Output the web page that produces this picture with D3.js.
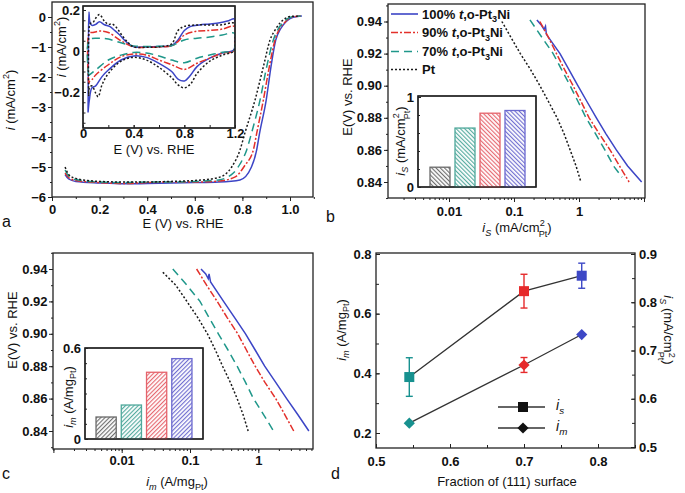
<!DOCTYPE html>
<html><head><meta charset="utf-8">
<script src="https://cdn.jsdelivr.net/npm/d3@7"></script>
<style>html,body{margin:0;padding:0;background:#fff}svg{display:block}</style>
</head><body>
<svg id="chart" width="685" height="493"></svg>
<script>
// ---------------- DATA ----------------
const seriesNames = ["100%", "90%", "70%", "Pt"];
const barCategories = ["Pt", "70%", "90%", "100%"];

// (a) LSV polarization curves: [E (V), i (mA/cm2)]
const lsvBlue = [[0.055,-5.25],[0.07,-5.4],[0.1,-5.48],[0.2,-5.53],[0.3,-5.56],[0.4,-5.55],[0.5,-5.53],[0.6,-5.52],[0.7,-5.5],[0.79,-5.43],[0.838,-5.0],[0.86,-4.43],[0.872,-3.88],[0.9,-2.77],[0.92,-1.66],[0.94,-0.77],[0.96,-0.4],[0.98,-0.18],[1.0,-0.05],[1.03,0.02],[1.05,0.03]];
const lsvRed = [[0.055,-5.2],[0.07,-5.35],[0.1,-5.45],[0.2,-5.52],[0.3,-5.55],[0.4,-5.52],[0.5,-5.5],[0.6,-5.5],[0.7,-5.47],[0.77,-5.33],[0.81,-4.95],[0.846,-4.43],[0.86,-3.88],[0.888,-2.77],[0.913,-1.66],[0.937,-0.77],[0.955,-0.4],[0.978,-0.18],[1.0,-0.03],[1.025,0.02],[1.045,0.03]];
const lsvTeal = [[0.055,-5.1],[0.07,-5.3],[0.1,-5.42],[0.2,-5.5],[0.3,-5.52],[0.4,-5.5],[0.5,-5.5],[0.6,-5.48],[0.7,-5.43],[0.762,-5.2],[0.79,-4.9],[0.818,-4.43],[0.838,-3.88],[0.874,-2.77],[0.902,-1.66],[0.93,-0.77],[0.95,-0.4],[0.972,-0.18],[0.995,-0.03],[1.02,0.02],[1.045,0.03]];
const lsvPt = [[0.055,-5.0],[0.07,-5.25],[0.1,-5.38],[0.15,-5.45],[0.2,-5.48],[0.3,-5.5],[0.4,-5.5],[0.5,-5.48],[0.6,-5.45],[0.7,-5.35],[0.755,-5.0],[0.79,-4.43],[0.81,-3.88],[0.853,-2.77],[0.888,-1.66],[0.916,-0.77],[0.94,-0.4],[0.958,-0.2],[0.98,-0.05],[1.0,0.02],[1.04,0.03]];

// (a inset) CV: anodic (forward) then cathodic (return) branches: [E, i]
const cvBlueUp = [[0.04,-0.30],[0.043,0.0],[0.047,0.19],[0.055,0.14],[0.07,0.125],[0.1,0.13],[0.13,0.143],[0.17,0.128],[0.21,0.12],[0.25,0.10],[0.29,0.078],[0.34,0.045],[0.4,0.021],[0.5,0.02],[0.6,0.022],[0.7,0.027],[0.75,0.054],[0.8,0.10],[0.85,0.12],[0.92,0.127],[1.0,0.132],[1.08,0.138],[1.15,0.148],[1.195,0.156]];
const cvBlueDown = [[1.2,0.04],[1.19,0.005],[1.1,-0.01],[1.0,-0.035],[0.9,-0.076],[0.85,-0.117],[0.8,-0.146],[0.75,-0.137],[0.7,-0.10],[0.6,-0.06],[0.5,-0.031],[0.4,-0.024],[0.3,-0.044],[0.2,-0.093],[0.15,-0.125],[0.1,-0.17],[0.07,-0.18],[0.05,-0.24],[0.04,-0.30]];
const cvPtUp = [[0.045,-0.22],[0.05,0.12],[0.06,0.135],[0.08,0.14],[0.1,0.16],[0.13,0.178],[0.17,0.145],[0.2,0.13],[0.23,0.132],[0.27,0.11],[0.3,0.083],[0.35,0.045],[0.4,0.02],[0.5,0.018],[0.6,0.02],[0.7,0.035],[0.75,0.1],[0.8,0.12],[0.9,0.127],[1.0,0.127],[1.1,0.128],[1.195,0.135]];
const cvPtDown = [[1.2,0.06],[1.19,0.0],[1.1,-0.02],[1.0,-0.05],[0.9,-0.11],[0.85,-0.16],[0.8,-0.18],[0.75,-0.165],[0.7,-0.13],[0.6,-0.08],[0.5,-0.044],[0.4,-0.031],[0.3,-0.05],[0.2,-0.11],[0.15,-0.165],[0.12,-0.223],[0.1,-0.205],[0.07,-0.17],[0.05,-0.18],[0.045,-0.22]];
const cvRedUp = [[0.045,-0.16],[0.05,0.087],[0.08,0.09],[0.13,0.097],[0.2,0.09],[0.3,0.05],[0.4,0.02],[0.5,0.018],[0.6,0.02],[0.7,0.025],[0.75,0.046],[0.8,0.078],[0.9,0.097],[1.0,0.1],[1.1,0.107],[1.195,0.12]];
const cvRedDown = [[1.2,0.05],[1.19,0.0],[1.1,-0.01],[1.0,-0.035],[0.9,-0.06],[0.8,-0.09],[0.7,-0.067],[0.6,-0.044],[0.5,-0.02],[0.4,-0.015],[0.3,-0.028],[0.2,-0.067],[0.1,-0.117],[0.07,-0.14],[0.05,-0.15],[0.045,-0.16]];
const cvTealUp = [[0.045,-0.12],[0.05,0.054],[0.13,0.062],[0.2,0.058],[0.3,0.04],[0.4,0.025],[0.5,0.022],[0.6,0.023],[0.7,0.026],[0.8,0.054],[0.9,0.062],[1.0,0.068],[1.1,0.078],[1.195,0.087]];
const cvTealDown = [[1.2,0.04],[1.19,0.0],[1.1,-0.006],[1.0,-0.02],[0.9,-0.035],[0.8,-0.057],[0.7,-0.044],[0.6,-0.024],[0.5,-0.01],[0.4,-0.007],[0.3,-0.02],[0.2,-0.044],[0.1,-0.093],[0.05,-0.117],[0.045,-0.12]];

// (b) Tafel, specific activity: [E, iS (mA/cm2 Pt)]
const tafSBlue = [[0.941,0.225],[0.938,0.26],[0.935,0.29],[0.937,0.305],[0.932,0.315],[0.92,0.51],[0.91,0.70],[0.90,0.96],[0.89,1.33],[0.88,1.85],[0.87,2.6],[0.86,3.75],[0.85,5.6],[0.84,9.2]];
const tafSRed = [[0.94,0.25],[0.93,0.34],[0.92,0.45],[0.91,0.6],[0.90,0.81],[0.89,1.08],[0.88,1.43],[0.87,2.05],[0.86,3.0],[0.85,4.2],[0.84,5.9]];
const tafSTeal = [[0.941,0.176],[0.93,0.27],[0.92,0.40],[0.91,0.54],[0.90,0.73],[0.89,0.97],[0.88,1.28],[0.87,1.8],[0.86,2.5],[0.85,3.4],[0.843,4.6]];
const tafSPt = [[0.94,0.065],[0.93,0.09],[0.92,0.125],[0.91,0.18],[0.90,0.25],[0.89,0.34],[0.88,0.46],[0.87,0.59],[0.86,0.73],[0.85,0.9],[0.84,1.07]];
const barsS = [0.22, 0.655, 0.82, 0.85];

// (c) Tafel, mass activity: [E, im (A/mg Pt)]
const tafMBlue = [[0.94,0.145],[0.937,0.17],[0.934,0.185],[0.937,0.19],[0.932,0.2],[0.92,0.31],[0.91,0.45],[0.90,0.65],[0.89,0.9],[0.88,1.24],[0.87,1.8],[0.86,2.6],[0.85,3.8],[0.84,5.5]];
const tafMRed = [[0.94,0.125],[0.93,0.175],[0.92,0.25],[0.91,0.35],[0.90,0.5],[0.89,0.67],[0.88,0.9],[0.87,1.25],[0.86,1.8],[0.85,2.45],[0.84,3.3]];
const tafMTeal = [[0.94,0.056],[0.93,0.09],[0.92,0.14],[0.91,0.19],[0.90,0.26],[0.89,0.36],[0.88,0.49],[0.87,0.65],[0.86,0.85],[0.85,1.2],[0.84,1.67]];
const tafMPt = [[0.938,0.04],[0.93,0.062],[0.92,0.09],[0.91,0.13],[0.90,0.18],[0.89,0.235],[0.88,0.30],[0.87,0.39],[0.86,0.49],[0.85,0.6],[0.84,0.71]];
const barsM = [0.145, 0.224, 0.44, 0.53];

// (d) activity vs fraction of (111) surface
const fraction = [0.545, 0.70, 0.778];
const isVals = [0.645, 0.823, 0.855];
const isErr = [0.04, 0.035, 0.026];
const imVals = [0.233, 0.428, 0.53];
const imErr = [0, 0.025, 0];

// tick labels
const aXTicks = [0, 0.2, 0.4, 0.6, 0.8, 1.0];
const aYTicks = [0, -1, -2, -3, -4, -5, -6];
const insetAXTicks = [0, 0.4, 0.8, 1.2];
const insetAYTicks = [0.2, 0, -0.2];
const tafelYTicks = [0.94, 0.92, 0.90, 0.88, 0.86, 0.84];
const logTicks = [0.01, 0.1, 1];
const dXTicks = [0.5, 0.6, 0.7, 0.8];
const dYLTicks = [0.2, 0.4, 0.6, 0.8];
const dYRTicks = [0.5, 0.6, 0.7, 0.8, 0.9];

// ---------------- STYLE ----------------
const FONT = "'Liberation Sans', Arial, Helvetica, sans-serif";
const C = {blue:'#3c45c6', red:'#e3302b', teal:'#1f978a', black:'#1a1a1a'};
const lineStyles = [
  {color:C.blue, dash:null},
  {color:C.red, dash:'7,2,2,2'},
  {color:C.teal, dash:'8,5'},
  {color:C.black, dash:'2,2'}
];
const barColors = ['#6a6a6a', '#4fa89b', '#e5636b', '#6b69cf'];
const dColors = ['#17918f', '#e62a2b', '#3d48c6'];

const svg = d3.select('#chart').attr('font-family', FONT);
const defs = svg.append('defs');

function clipRect(id, x0, y0, x1, y1) {
  defs.append('clipPath').attr('id', id).append('rect')
    .attr('x', x0).attr('y', y0).attr('width', x1 - x0).attr('height', y1 - y0);
  return `url(#${id})`;
}
function box(x0, y0, x1, y1, fill) {
  svg.append('rect').attr('x', x0).attr('y', y0).attr('width', x1 - x0).attr('height', y1 - y0)
    .attr('fill', fill || 'none').attr('stroke', '#222').attr('stroke-width', 1.3);
}
function axis(type, scale, vals, size, fmt, tx, ty, pad, fs) {
  const ax = d3[type](scale).tickValues(vals).tickSize(size).tickPadding(pad == null ? 3 : pad)
    .tickFormat(fmt || (() => ''));
  const g = svg.append('g').attr('transform', `translate(${tx},${ty})`).call(ax);
  g.select('.domain').remove();
  g.attr('font-family', FONT).attr('font-size', fs || 13).attr('font-weight', 'bold');
  g.selectAll('line').attr('stroke', '#222').attr('stroke-width', 1);
  g.selectAll('text').attr('fill', '#111');
  return g;
}
// kinds: n normal, i italic, sub, isub (italic sub), sup, lsub (low sub stacked under a sup)
function rich(x, y, parts, fs, opts = {}) {
  const t = svg.append('text').attr('x', x).attr('y', y).attr('font-size', fs)
    .attr('text-anchor', opts.anchor || 'start').attr('font-weight', opts.weight || 'normal')
    .attr('fill', '#111');
  if (opts.rotate) t.attr('transform', `rotate(${opts.rotate},${x},${y})`);
  let off = 0;
  parts.forEach(([s, k, dx]) => {
    let target = 0, size = fs, style = 'normal';
    if (k.includes('sub')) { target = fs * (k === 'lsub' ? 0.42 : 0.3); size = fs * 0.7; }
    if (k.includes('sup')) { target = -fs * 0.45; size = fs * 0.7; }
    if (k.startsWith('i')) style = 'italic';
    const ts = t.append('tspan').text(s).attr('font-size', size).attr('font-style', style);
    if (target - off !== 0) ts.attr('dy', target - off);
    if (dx) ts.attr('dx', dx);
    off = target;
  });
  return t;
}
const minus = v => (v < 0 ? '\u2212' + Math.abs(v) : String(v));
function range(a, b, step) { const r = []; for (let v = a; v <= b + 1e-9; v += step) r.push(+v.toFixed(6)); return r; }
function logMinor(lo, hi) {
  const r = [];
  for (let e = -4; e <= 2; e++) for (let k = 1; k <= 9; k++) { const v = k * Math.pow(10, e); if (v >= lo && v <= hi) r.push(v); }
  return r;
}
const isLabel = [['i', 'i'], ['S', 'isub'], [' (mA/cm', 'n'], ['2', 'sup'], ['Pt', 'lsub', -6], [')', 'n']];
const imLabel = [['i', 'i'], ['m', 'isub'], [' (A/mg', 'n'], ['Pt', 'sub'], [')', 'n']];

// ---------------- PANEL A ----------------
{
  const x = d3.scaleLinear().domain([0, 1]).range([52, 290]);
  const y = d3.scaleLinear().domain([-6, 0]).range([197, 17]);
  const X0 = 52, X1 = 313, Y0 = 2, Y1 = 197;
  const cp = clipRect('clipA', X0, Y0, X1, Y1);
  const line = d3.line().x(d => x(d[0])).y(d => y(d[1])).curve(d3.curveMonotoneX);
  const g = svg.append('g').attr('clip-path', cp);
  [lsvBlue, lsvRed, lsvTeal, lsvPt].forEach((data, i) => {
    g.append('path').attr('d', line(data)).attr('fill', 'none')
      .attr('stroke', lineStyles[i].color).attr('stroke-width', 1.5)
      .attr('stroke-dasharray', lineStyles[i].dash);
  });
  box(X0, Y0, X1, Y1);
  axis('axisBottom', x, range(0, 1.1, 0.1), 2, null, 0, Y1);
  axis('axisBottom', x, aXTicks, 4, d => d3.format('.1f')(d).replace(/^0\.0$/, '0'), 0, Y1, 3.5);
  axis('axisLeft', y, range(-6, 0, 0.5), 2, null, X0, 0);
  axis('axisLeft', y, aYTicks, 4, minus, X0, 0, 2);
  rich(183, 228, [['E (V) vs. RHE', 'n']], 13, {anchor: 'middle'});
  rich(15, 100, [['i', 'i'], [' (mA/cm', 'n'], ['2', 'sup'], [')', 'n']], 13, {anchor: 'middle', rotate: -90});
  rich(2, 227, [['a', 'n']], 16);

  // inset CV
  const ix = d3.scaleLinear().domain([0, 1.2]).range([83, 235]);
  const iy = d3.scaleLinear().domain([-0.2, 0.2]).range([92, 10]);
  const IX0 = 83, IX1 = 235, IY0 = 6, IY1 = 128;
  box(IX0, IY0, IX1, IY1, '#fff');
  const icp = clipRect('clipAi', IX0, IY0, IX1, IY1);
  const cline = d3.line().x(d => ix(d[0])).y(d => iy(d[1])).curve(d3.curveCatmullRom.alpha(0.5));
  const gi = svg.append('g').attr('clip-path', icp);
  [[cvBlueUp, cvBlueDown], [cvRedUp, cvRedDown], [cvTealUp, cvTealDown], [cvPtUp, cvPtDown]].forEach((pair, i) => {
    gi.append('path').attr('d', cline(pair[0].concat(pair[1]))).attr('fill', 'none')
      .attr('stroke', lineStyles[i].color).attr('stroke-width', 1.5)
      .attr('stroke-dasharray', lineStyles[i].dash);
  });
  box(IX0, IY0, IX1, IY1);
  axis('axisBottom', ix, range(0, 1.2, 0.2), -3, null, 0, IY1);
  axis('axisBottom', ix, insetAXTicks, -3, d => (d === 0 ? '0' : d3.format('.1f')(d)), 0, IY1, 1);
  axis('axisLeft', iy, range(-0.35, 0.2, 0.05), -2.5, null, IX0, 0);
  axis('axisLeft', iy, insetAYTicks, -3, d => (d === 0 ? '0' : minus(d)), IX0, 0, 3);
  rich(154, 154, [['E (V) vs. RHE', 'n']], 13, {anchor: 'middle'});
  rich(66, 47, [['i', 'i'], [' (mA/cm', 'n'], ['2', 'sup'], [')', 'n']], 13, {anchor: 'middle', rotate: -90});
}

// hatch patterns
function hatch(id, color, angle) {
  const p = defs.append('pattern').attr('id', id).attr('patternUnits', 'userSpaceOnUse')
    .attr('width', 3).attr('height', 3).attr('patternTransform', `rotate(${angle})`);
  p.append('rect').attr('width', 3).attr('height', 3).attr('fill', '#fff');
  p.append('line').attr('x1', 0.6).attr('y1', 0).attr('x2', 0.6).attr('y2', 3)
    .attr('stroke', color).attr('stroke-width', 1.1);
}
barColors.forEach((c, i) => { hatch('hb' + i, c, -45); hatch('hc' + i, c, 45); });

function tafelPanel(opts) {
  const {X0, X1, Y0, Y1, x, y, datasets, clipId} = opts;
  const cp = clipRect(clipId, X0, Y0, X1, Y1);
  const line = d3.line().x(d => x(d[1])).y(d => y(d[0]));
  const g = svg.append('g').attr('clip-path', cp);
  datasets.forEach((data, i) => {
    g.append('path').attr('d', line(data)).attr('fill', 'none')
      .attr('stroke', lineStyles[i].color).attr('stroke-width', 1.5)
      .attr('stroke-dasharray', lineStyles[i].dash);
  });
  box(X0, Y0, X1, Y1);
  const lo = x.invert(X0), hi = x.invert(X1);
  axis('axisBottom', x, logMinor(lo, hi), 2, null, 0, Y1);
  axis('axisBottom', x, logTicks.concat([0.001, 10].filter(v => v >= lo && v <= hi)), 4,
    d => (logTicks.includes(d) ? String(d) : ''), 0, Y1, opts.xPad);
  axis('axisLeft', y, range(0.83, 0.95, 0.01), 2, null, X0, 0);
  axis('axisLeft', y, tafelYTicks, 4, d3.format('.2f'), X0, 0, opts.yPad);
}
function barInset(opts) {
  const {X0, X1, Y0, Y1, y, vals, band, pat} = opts;
  box(X0, Y0, X1, Y1, '#fff');
  const xb = d3.scaleBand().domain(barCategories).range(band).paddingInner(0.2).paddingOuter(0.1);
  svg.append('g').selectAll('rect').data(vals).join('rect')
    .attr('x', (d, i) => xb(barCategories[i])).attr('width', xb.bandwidth())
    .attr('y', d => y(d)).attr('height', d => y(0) - y(d))
    .attr('fill', (d, i) => `url(#${pat}${i})`).attr('stroke', (d, i) => barColors[i]).attr('stroke-width', 1.3);
  box(X0, Y0, X1, Y1);
  axis('axisLeft', y, opts.minor, -2, null, X0, 0);
  axis('axisLeft', y, opts.major, -3, opts.fmt, X0, 0, 4);
}

// ---------------- PANEL B ----------------
{
  const x = d3.scaleLog().domain([0.01, 1]).range([449, 579]);
  const y = d3.scaleLinear().domain([0.84, 0.94]).range([182, 21.5]);
  tafelPanel({X0: 388, X1: 645, Y0: 4, Y1: 198, x, y, clipId: 'clipB',
    datasets: [tafSBlue, tafSRed, tafSTeal, tafSPt], xPad: 5, yPad: 2});
  rich(347 + 4.5, 97, [['E(V) vs. RHE', 'n']], 13, {anchor: 'middle', rotate: -90});
  rich(517, 232, isLabel, 13, {anchor: 'middle'});
  rich(326, 222, [['b', 'n']], 16);
  // legend
  const rows = [14, 32.5, 51.5, 69.5];
  const labels = seriesNames.map(n => n === 'Pt' ? [['Pt', 'n']] :
    [[n + ' ', 'n'], ['t', 'i'], [',o-Pt', 'n'], ['3', 'sub'], ['Ni', 'n']]);
  rows.forEach((ry, i) => {
    svg.append('line').attr('x1', 391).attr('x2', 418).attr('y1', ry).attr('y2', ry)
      .attr('stroke', lineStyles[i].color).attr('stroke-width', 1.6).attr('stroke-dasharray', lineStyles[i].dash);
    rich(422, ry + 4.5, labels[i], 13, {weight: 'bold'});
  });
  // inset bars
  barInset({X0: 418, X1: 536, Y0: 96, Y1: 187, y: d3.scaleLinear().domain([0, 1]).range([187, 97]),
    vals: barsS, band: [427.5, 527.5], pat: 'hb', major: [0, 1], minor: range(0, 1, 0.2), fmt: d => String(d)});
  rich(400 + 4.5, 141, isLabel, 13, {anchor: 'middle', rotate: -90});
}

// ---------------- PANEL C ----------------
{
  const x = d3.scaleLog().domain([0.01, 1]).range([121.7, 258.3]);
  const y = d3.scaleLinear().domain([0.84, 0.94]).range([431, 269]);
  tafelPanel({X0: 53, X1: 313, Y0: 253, Y1: 449, x, y, clipId: 'clipC',
    datasets: [tafMBlue, tafMRed, tafMTeal, tafMPt], xPad: 3, yPad: 1.5});
  rich(12 + 4.5, 330, [['E(V) vs. RHE', 'n']], 13, {anchor: 'middle', rotate: -90});
  rich(177, 486, imLabel, 13, {anchor: 'middle'});
  rich(2, 479, [['c', 'n']], 16);
  barInset({X0: 85, X1: 203, Y0: 348, Y1: 439, y: d3.scaleLinear().domain([0, 0.6]).range([439, 348]),
    vals: barsM, band: [93.5, 194.5], pat: 'hc', major: [0, 0.6], minor: range(0, 0.6, 0.1), fmt: d => String(d)});
  rich(68 + 4.5, 397, imLabel, 13, {anchor: 'middle', rotate: -90});
}

// ---------------- PANEL D ----------------
{
  const X0 = 376, X1 = 635, Y0 = 253, Y1 = 448;
  const x = d3.scaleLinear().domain([0.5, 0.85]).range([X0, X1]);
  const yL = d3.scaleLinear().domain([0.2, 0.8]).range([433, 254]);
  const yR = d3.scaleLinear().domain([0.5, 0.9]).range([447, 254]);
  box(X0, Y0, X1, Y1);
  axis('axisBottom', x, range(0.5, 0.85, 0.05), -3, null, 0, Y1);
  axis('axisBottom', x, dXTicks, -4, d3.format('.1f'), 0, Y1, 9);
  axis('axisLeft', yL, range(0.2, 0.8, 0.1), -3, null, X0, 0);
  axis('axisLeft', yL, dYLTicks, -4, d3.format('.1f'), X0, 0, 4.5);
  axis('axisRight', yR, range(0.5, 0.9, 0.05), -3, null, X1, 0);
  axis('axisRight', yR, dYRTicks, -4, d3.format('.1f'), X1, 0, 4);

  const ln = (ys, vals) => d3.line().x((d, i) => x(fraction[i])).y(d => ys(d))(vals);
  svg.append('path').attr('d', ln(yR, isVals)).attr('fill', 'none').attr('stroke', '#333').attr('stroke-width', 1.3);
  svg.append('path').attr('d', ln(yL, imVals)).attr('fill', 'none').attr('stroke', '#333').attr('stroke-width', 1.3);
  function errBar(cx, ys, v, e, color) {
    if (!e) return;
    const g = svg.append('g').attr('stroke', color).attr('stroke-width', 1.4);
    g.append('line').attr('x1', cx).attr('x2', cx).attr('y1', ys(v - e)).attr('y2', ys(v + e));
    [v - e, v + e].forEach(t => g.append('line').attr('x1', cx - 3.5).attr('x2', cx + 3.5).attr('y1', ys(t)).attr('y2', ys(t)));
  }
  const diamond = d3.symbol(d3.symbolDiamond2, 80)();
  fraction.forEach((f, i) => {
    errBar(x(f), yR, isVals[i], isErr[i], dColors[i]);
    errBar(x(f), yL, imVals[i], imErr[i], dColors[i]);
    svg.append('rect').attr('x', x(f) - 5).attr('y', yR(isVals[i]) - 5).attr('width', 10).attr('height', 10).attr('fill', dColors[i]);
    svg.append('path').attr('d', diamond).attr('transform', `translate(${x(f)},${yL(imVals[i])})`).attr('fill', dColors[i]);
  });
  // legend
  [[407, 'sq', 's'], [428, 'di', 'm']].forEach(([ry, m, sub]) => {
    svg.append('line').attr('x1', 498).attr('x2', 545).attr('y1', ry).attr('y2', ry).attr('stroke', '#333').attr('stroke-width', 1.3);
    if (m === 'sq') svg.append('rect').attr('x', 518).attr('y', ry - 5).attr('width', 10).attr('height', 10).attr('fill', '#111');
    else svg.append('path').attr('d', diamond).attr('transform', `translate(523,${ry})`).attr('fill', '#111');
    rich(556, ry + 3, [['i', 'i'], [sub, 'isub']], 14);
  });
  rich(507, 486, [['Fraction of (111) surface', 'n']], 13, {anchor: 'middle'});
  rich(341 + 4.5, 330, imLabel, 13, {anchor: 'middle', rotate: -90});
  rich(668 - 4.5, 330, isLabel, 13, {anchor: 'middle', rotate: 90});
  rich(331, 479, [['d', 'n']], 16);
}
</script>
</body></html>
